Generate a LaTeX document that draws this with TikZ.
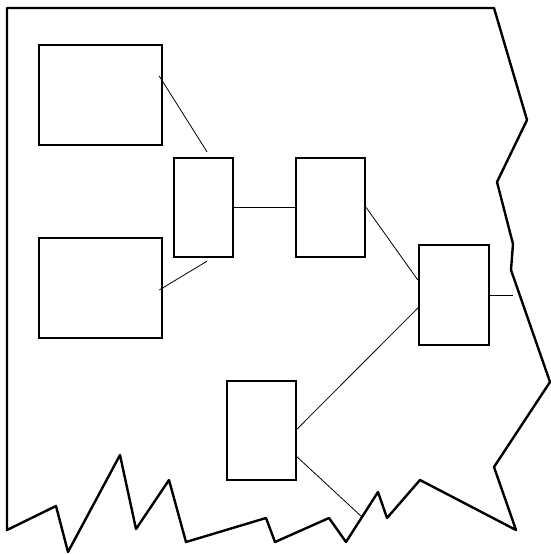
\documentclass[tikz,border=0pt]{standalone}
\begin{document}
\begin{tikzpicture}[x=1pt,y=-1pt,
  box/.style={draw,line width=2.4pt,inner sep=0pt,rectangle},
  link/.style={draw,line width=0.8pt},
  edge/.style={draw,line width=2.4pt,line join=round}]
\useasboundingbox (0,0) rectangle (550,554);
% outline
\draw[edge] (7,8) -- (494,8) -- (527,120) -- (497,182) -- (513,244) -- (511,270)
  -- (550,382) -- (494,467) -- (516,530) -- (420,480) -- (387,518) -- (378,492)
  -- (346,542) -- (329,518) -- (275,542) -- (266,518) -- (186,542) -- (169,480)
  -- (136,529) -- (120,455) -- (68,552) -- (56,506) -- (7,530) -- cycle;
% boxes
\node[box,minimum width=123pt,minimum height=100pt] (A) at (100.5,95) {};
\node[box,minimum width=123pt,minimum height=100pt] (B) at (100.5,288) {};
\node[box,minimum width=59pt,minimum height=99pt] (C) at (203.5,207.5) {};
\node[box,minimum width=69pt,minimum height=99pt] (D) at (330.5,207.5) {};
\node[box,minimum width=70pt,minimum height=100pt] (E) at (454,295) {};
\node[box,minimum width=69pt,minimum height=99pt] (F) at (261.5,430.5) {};
\coordinate (p1) at (362,517);
\coordinate (p2) at (513,295);
% connectors
\draw[link] ([shift={(-4,-19)}]A.east) -- ([shift={(3.5,-5)}]C.north);
\draw[link] ([shift={(3.5,3)}]C.south) -- ([shift={(-4,2)}]B.east);
\draw[link] (C.east) -- (D.west);
\draw[link] (D.east) -- ([shift={(0,-15)}]E.west);
\draw[link] ([shift={(0,-1.5)}]F.east) -- ([shift={(0,13)}]E.west);
\draw[link] ([shift={(0,26.5)}]F.east) -- (p1);
\draw[link] (E.east) -- (p2);
\end{tikzpicture}
\end{document}
